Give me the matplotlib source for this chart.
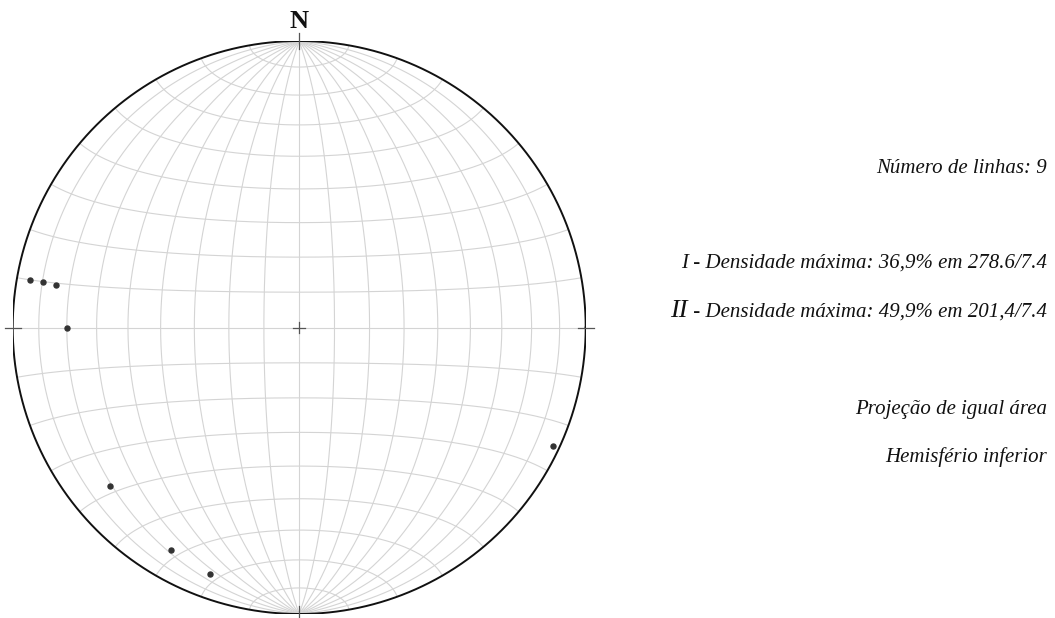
import numpy as np
import matplotlib
matplotlib.use("Agg")
import matplotlib.pyplot as plt

# Lineations (trend / plunge, degrees), lower hemisphere
trends = [280, 280, 280, 270, 230, 210, 200, 115]
plunges = [5, 10, 15, 20, 15, 11.5, 9.5, 2.7]

info_count = "Número de linhas: 9"
info_max1_num = "I"
info_max1 = " - Densidade máxima: 36,9% em 278.6/7.4"
info_max2_num = "II"
info_max2 = " - Densidade máxima: 49,9% em 201,4/7.4"
info_proj = "Projeção de igual área"
info_hemi = "Hemisfério inferior"

W, H = 1055, 618
fig = plt.figure(figsize=(W / 100, H / 100), dpi=100)
fig.patch.set_facecolor("white")

cx, cy, R = 299.2, 327.5, 286.5
ax = fig.add_axes([(cx - R) / W, (H - cy - R) / H, 2 * R / W, 2 * R / H])
ax.set_xlim(-1, 1)
ax.set_ylim(-1, 1)
ax.set_aspect("equal")
ax.axis("off")

S2 = np.sqrt(2.0)


def lambert(lon, lat):
    """Equatorial Lambert equal-area projection, primitive radius 1."""
    lon = np.radians(lon)
    lat = np.radians(lat)
    k = np.sqrt(2.0 / (1.0 + np.cos(lat) * np.cos(lon)))
    x = k * np.cos(lat) * np.sin(lon) / S2
    y = k * np.sin(lat) / S2
    return x, y


grid_kw = dict(color="#d4d4d4", lw=0.8, zorder=1)
t = np.linspace(-90, 90, 361)
for lon in range(-80, 90, 10):
    x, y = lambert(np.full_like(t, lon), t)
    ax.plot(x, y, **grid_kw)
for lat in range(-80, 90, 10):
    x, y = lambert(t, np.full_like(t, lat))
    ax.plot(x, y, **grid_kw)

# primitive circle
a = np.linspace(0, 2 * np.pi, 721)
ax.plot(np.cos(a), np.sin(a), color="#111111", lw=1.4, zorder=3)

# cardinal ticks and centre cross
tick_kw = dict(color="#555555", lw=0.9, zorder=4, clip_on=False)
d = 0.028
ax.plot([-1 - d, -1 + d], [0, 0], **tick_kw)
ax.plot([1 - d, 1 + d], [0, 0], **tick_kw)
ax.plot([0, 0], [1 - d, 1 + d], **tick_kw)
ax.plot([0, 0], [-1 - d, -1 + d], **tick_kw)
c = 0.02
ax.plot([-c, c], [0, 0], **tick_kw)
ax.plot([0, 0], [-c, c], **tick_kw)

# lineation points
tr = np.radians(trends)
r = S2 * np.sin(np.radians(90 - np.array(plunges)) / 2)
ax.plot(r * np.sin(tr), r * np.cos(tr), "o", color="#333333", ms=3.6,
        zorder=5, clip_on=False)

ax.text(0, 1.045, "N", ha="center", va="baseline", family="Liberation Serif",
        fontweight="bold", fontsize=19, color="#111111")


def ftext(xp, yp, s, size=15, **kw):
    return fig.text(xp / W, 1 - yp / H, s, ha="right", va="baseline",
                    family="Liberation Serif", style="italic", fontsize=size,
                    color="#111111", **kw)


xr = 1047
ftext(xr, 173, info_count)
rest1 = ftext(xr, 268, info_max1)
t1 = ftext(xr, 268, info_max1_num)
rest2 = ftext(xr, 317, info_max2)
t2 = ftext(xr, 317, info_max2_num, size=19)
ftext(xr, 414, info_proj)
ftext(xr, 462, info_hemi)

# place roman numerals just left of their lines
fig.canvas.draw()
rend = fig.canvas.get_renderer()
for num, rest, yp in ((t1, rest1, 268), (t2, rest2, 317)):
    bb = rest.get_window_extent(rend)
    num.set_position((bb.x0 / W, 1 - yp / H))

fig.savefig("out.png", dpi=100, facecolor="white")
